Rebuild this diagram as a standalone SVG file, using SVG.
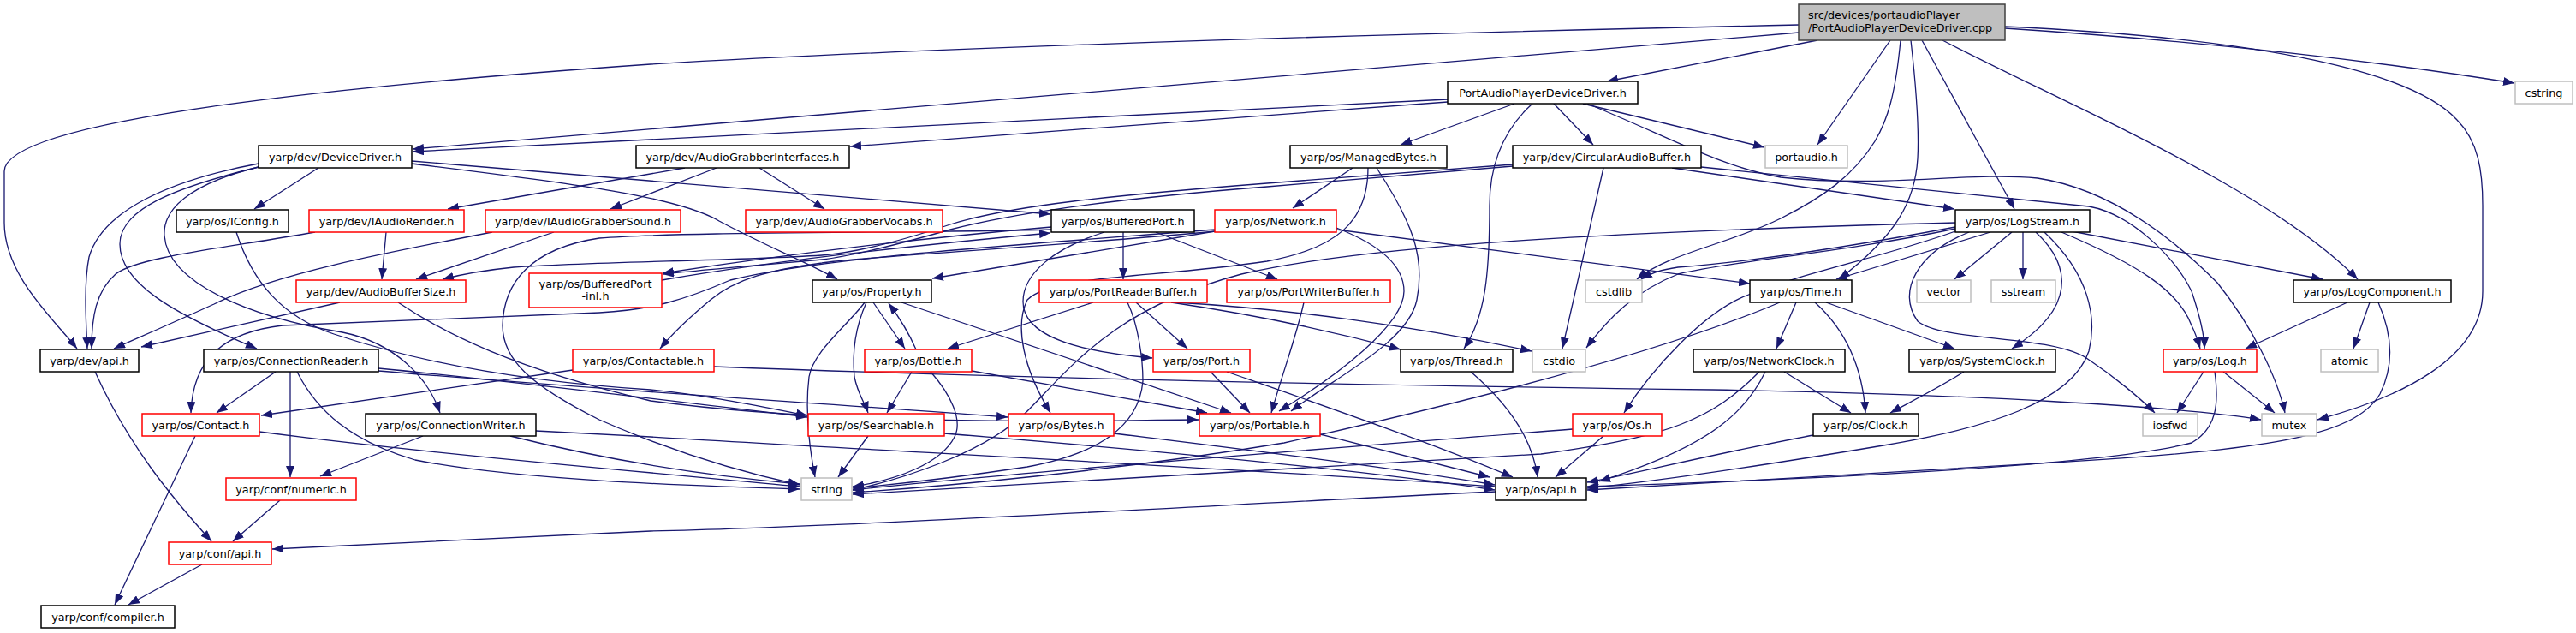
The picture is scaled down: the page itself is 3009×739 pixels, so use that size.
<svg xmlns="http://www.w3.org/2000/svg" width="3009" height="739" viewBox="0 0 3009 739">
<defs>
<marker id="a" markerWidth="13" markerHeight="10" refX="13" refY="5" orient="auto" markerUnits="userSpaceOnUse"><path d="M0,0 L13,5 L0,10 z" fill="#191970"/></marker>
<style>
rect{fill:#fff;stroke:#000;stroke-width:1.5}
rect.r{stroke:#ff0000}
rect.g{stroke:#bfbfbf}
rect.s{fill:#bfbfbf;stroke:#404040}
text{font-family:"DejaVu Sans","Liberation Sans",sans-serif;font-size:12.8px;text-anchor:middle;fill:#000}
text.l{text-anchor:start}
#edges path{fill:none;stroke:#191970;stroke-width:1.3;marker-end:url(#a)}
</style>
</defs>
<rect x="0" y="0" width="3009" height="739" style="fill:#fff;stroke:none"/>
<g id="edges">
<path d="M2101,29 C1600,40 1100,55 760,75 C400,100 5,140 5,200 L5,260 C5,320 60,370 90,407"/>
<path d="M2101,38 L482,174"/>
<path d="M2123,47 L1877,95"/>
<path d="M2208,47 L2123,169"/>
<path d="M2220,47 C2214,110 2205,140 2190,165 C2165,205 2130,230 2080,255 C2020,285 1950,295 1912,326"/>
<path d="M2232,47 C2238,100 2242,150 2240,185 C2237,235 2215,275 2148,326"/>
<path d="M2245,47 L2353,244"/>
<path d="M2269,47 C2420,125 2650,220 2754,326"/>
<path d="M2342,33 C2600,50 2800,75 2937,97"/>
<path d="M2342,31 C2650,45 2820,85 2870,140 C2895,165 2900,200 2900,240 L2900,340 C2900,420 2800,465 2707,490"/>
<path d="M1691,116 L482,177"/>
<path d="M1691,119 L993,171"/>
<path d="M1769,121 L1636,169"/>
<path d="M1790,121 C1758,150 1740,190 1740,240 C1740,320 1735,370 1710,407"/>
<path d="M1815,121 L1861,169"/>
<path d="M1849,121 L2061,172"/>
<path d="M1854,121 C1950,160 2010,195 2080,207 C2200,220 2300,200 2380,208 C2460,220 2530,270 2590,330 C2630,380 2660,440 2669,482"/>
<path d="M481,188 L1227,250"/>
<path d="M481,191 C650,212 790,228 840,258 C890,285 940,305 978,326"/>
<path d="M372,196 L297,244"/>
<path d="M302,191 C200,210 120,245 104,300 C98,330 100,370 102,407"/>
<path d="M302,195 C200,220 140,245 140,285 C140,330 200,365 300,407"/>
<path d="M302,195 C220,215 190,245 192,275 C196,330 290,370 400,388 C460,400 500,440 514,482"/>
<path d="M800,196 L523,244"/>
<path d="M837,196 L713,244"/>
<path d="M887,196 L963,244"/>
<path d="M451,271 L446,326"/>
<path d="M368,271 C260,290 160,300 135,320 C112,340 107,370 107,407"/>
<path d="M647,271 L486,326"/>
<path d="M575,271 C450,295 320,320 250,355 C195,380 160,395 133,407"/>
<path d="M397,353 L165,405"/>
<path d="M465,353 C520,390 600,430 760,468 C1000,500 1300,490 1400,490"/>
<path d="M1767,192 L1480,214 C1300,228 1180,240 1110,262 C1050,282 1000,295 960,298 C850,305 700,305 600,312 C560,316 540,320 517,326"/>
<path d="M1767,194 L1480,218 C1300,232 1180,250 1110,268 C1050,285 990,300 960,303 C880,310 820,315 774,320"/>
<path d="M1873,196 L1825,407"/>
<path d="M1953,196 L2283,244"/>
<path d="M1987,195 L2440,241 C2490,250 2540,300 2560,340 C2570,370 2575,390 2575,407"/>
<path d="M1580,196 L1510,243"/>
<path d="M1598,196 C1598,260 1560,290 1480,305 C1350,325 1230,320 1200,350 C1185,380 1195,430 1227,482"/>
<path d="M1608,196 C1650,260 1665,300 1655,350 C1645,400 1560,440 1508,480"/>
<path d="M1420,268 C1200,285 960,300 853,327 C800,350 760,362 700,365 L330,380 C260,388 225,420 223,482"/>
<path d="M1420,270 C1200,290 1000,300 960,307 C900,315 860,325 830,350 C800,375 785,390 771,407"/>
<path d="M1419,270 L1089,325"/>
<path d="M1561,268 L2044,331"/>
<path d="M1561,266 C1610,285 1640,310 1640,340 C1640,380 1560,440 1494,480"/>
<path d="M1312,271 L1312,326"/>
<path d="M1350,271 L1492,326"/>
<path d="M1290,271 C1230,290 1195,320 1195,352 C1195,390 1250,410 1346,418"/>
<path d="M1228,265 C1050,280 900,300 774,319"/>
<path d="M773,327 C900,305 1050,288 1227,272"/>
<path d="M1228,268 C1100,272 800,270 700,278 C620,290 588,330 587,380 C587,420 620,450 700,490 C780,525 860,550 934,566"/>
<path d="M1010,353 C990,380 950,410 945,440 C940,480 945,520 952,557"/>
<path d="M1012,353 C1000,380 995,410 998,440 C1002,460 1010,470 1014,482"/>
<path d="M1020,353 L1057,407"/>
<path d="M1070,408 C1060,385 1050,370 1038,354"/>
<path d="M1053,353 L1438,482"/>
<path d="M1065,434 L1036,482"/>
<path d="M1087,434 C1110,460 1125,490 1115,510 C1100,540 1050,560 996,568"/>
<path d="M1135,433 L1410,482"/>
<path d="M1277,353 L1107,407"/>
<path d="M1317,353 C1330,380 1335,420 1335,445 C1330,500 1280,530 1200,545 C1100,560 1050,565 996,570"/>
<path d="M1327,353 L1387,407"/>
<path d="M1368,353 C1450,365 1550,385 1636,408"/>
<path d="M1372,353 C1500,360 1650,380 1789,410"/>
<path d="M1523,353 C1515,390 1500,430 1485,482"/>
<path d="M1414,434 L1460,482"/>
<path d="M1433,434 C1550,475 1680,520 1767,557"/>
<path d="M669,432 L305,485"/>
<path d="M834,428 C1200,442 1600,450 2000,455 C2300,460 2550,475 2641,490"/>
<path d="M322,434 L253,482"/>
<path d="M339,434 L339,557"/>
<path d="M347,434 C370,480 410,515 485,537 C600,560 800,567 934,571"/>
<path d="M442,430 C600,445 800,470 943,487"/>
<path d="M442,433 C700,455 950,470 1177,487"/>
<path d="M228,509 L134,706"/>
<path d="M303,504 C500,530 800,555 934,568"/>
<path d="M494,509 L374,556"/>
<path d="M596,509 C700,535 820,555 934,565"/>
<path d="M626,503 L760,510 C1100,530 1500,550 1746,568"/>
<path d="M1014,509 L979,557"/>
<path d="M1103,506 C1400,530 1600,550 1746,572"/>
<path d="M1301,506 C1500,530 1650,550 1746,566"/>
<path d="M1542,507 L1740,557"/>
<path d="M1718,434 C1760,470 1790,510 1796,557"/>
<path d="M1873,509 L1817,557"/>
<path d="M1837,501 C1600,520 1200,550 996,572"/>
<path d="M2098,353 L2075,407"/>
<path d="M2120,353 C2150,380 2175,420 2179,482"/>
<path d="M2133,353 L2283,407"/>
<path d="M2079,353 C1980,395 1800,450 1500,517 C1300,550 1100,568 996,575"/>
<path d="M2084,434 L2162,482"/>
<path d="M2062,434 C2040,480 2000,520 1868,562"/>
<path d="M2055,434 C2000,490 1950,510 1800,530 C1500,550 1200,565 996,577"/>
<path d="M2294,434 C2270,450 2230,470 2208,482"/>
<path d="M2118,508 C2000,530 1900,555 1854,563"/>
<path d="M2574,434 L2543,482"/>
<path d="M2597,434 L2657,482"/>
<path d="M2587,434 C2592,470 2590,500 2560,517 C2450,545 2100,560 1854,568"/>
<path d="M2742,353 L2623,407"/>
<path d="M2768,353 L2749,407"/>
<path d="M2778,353 C2790,380 2800,420 2780,460 C2750,510 2650,525 2400,540 C2200,550 2000,565 1854,572"/>
<path d="M2350,271 L2283,326"/>
<path d="M2363,271 L2363,326"/>
<path d="M2325,271 L2145,326"/>
<path d="M2378,271 C2420,310 2425,360 2350,407"/>
<path d="M2388,271 C2440,320 2450,370 2440,410 C2420,470 2320,500 2200,520 C2050,545 1950,560 1854,570"/>
<path d="M2408,271 C2500,310 2545,340 2560,380 C2565,390 2568,400 2570,407"/>
<path d="M2420,270 L2713,326"/>
<path d="M2300,271 C2240,295 2215,340 2240,375 C2270,400 2400,390 2440,420 C2470,440 2500,465 2517,482"/>
<path d="M2284,265 C2150,290 2050,305 1960,312 C1940,315 1930,318 1917,326"/>
<path d="M2284,267 C2150,295 2020,305 1960,320 C1910,340 1880,370 1853,406"/>
<path d="M2284,270 C2200,300 2100,320 2040,345 C1990,365 1930,430 1897,482"/>
<path d="M2284,260 C1900,270 1600,285 1450,320 C1300,360 1250,430 1200,480 C1150,530 1050,560 996,572"/>
<path d="M1747,574 C1500,585 1000,615 760,620 L318,641"/>
<path d="M111,434 C150,520 200,580 247,632"/>
<path d="M327,584 L272,632"/>
<path d="M236,659 L150,706"/>
<path d="M276,271 C295,330 330,370 390,390 C480,420 600,445 760,455 C830,462 890,475 943,485"/>
</g>
<g id="n_src"><rect class="s" x="2101" y="5" width="241" height="42"/><text class="l" x="2112" y="22">src/devices/portaudioPlayer</text><text class="l" x="2112" y="37">/PortAudioPlayerDeviceDriver.cpp</text></g>
<g id="n_papdd"><rect x="1691" y="95" width="222" height="26"/><text x="1802" y="112.5">PortAudioPlayerDeviceDriver.h</text></g>
<g id="n_cstring"><rect class="g" x="2938" y="95" width="67" height="26"/><text x="2971.5" y="112.5">cstring</text></g>
<g id="n_devicedriver"><rect x="302" y="170" width="179" height="26"/><text x="391.5" y="187.5">yarp/dev/DeviceDriver.h</text></g>
<g id="n_agi"><rect x="743" y="170" width="249" height="26"/><text x="867.5" y="187.5">yarp/dev/AudioGrabberInterfaces.h</text></g>
<g id="n_managedbytes"><rect x="1507" y="170" width="183" height="26"/><text x="1598.5" y="187.5">yarp/os/ManagedBytes.h</text></g>
<g id="n_circular"><rect x="1767" y="170" width="220" height="26"/><text x="1877" y="187.5">yarp/dev/CircularAudioBuffer.h</text></g>
<g id="n_portaudio"><rect class="g" x="2062" y="170" width="96" height="26"/><text x="2110" y="187.5">portaudio.h</text></g>
<g id="n_iconfig"><rect x="206" y="245" width="131" height="26"/><text x="271.5" y="262.5">yarp/os/IConfig.h</text></g>
<g id="n_iaudiorender"><rect class="r" x="361" y="245" width="181" height="26"/><text x="451.5" y="262.5">yarp/dev/IAudioRender.h</text></g>
<g id="n_iaudiograbbersound"><rect class="r" x="567" y="245" width="228" height="26"/><text x="681" y="262.5">yarp/dev/IAudioGrabberSound.h</text></g>
<g id="n_vocabs"><rect class="r" x="871" y="245" width="230" height="26"/><text x="986" y="262.5">yarp/dev/AudioGrabberVocabs.h</text></g>
<g id="n_bufferedport"><rect x="1228" y="245" width="167" height="26"/><text x="1311.5" y="262.5">yarp/os/BufferedPort.h</text></g>
<g id="n_network"><rect class="r" x="1419" y="245" width="142" height="26"/><text x="1490" y="262.5">yarp/os/Network.h</text></g>
<g id="n_logstream"><rect x="2284" y="245" width="157" height="26"/><text x="2362.5" y="262.5">yarp/os/LogStream.h</text></g>
<g id="n_audiobuffersize"><rect class="r" x="346" y="327" width="198" height="26"/><text x="445" y="344.5">yarp/dev/AudioBufferSize.h</text></g>
<g id="n_bufferedportinl"><rect class="r" x="618" y="319" width="155" height="40"/><text x="695.5" y="335.5">yarp/os/BufferedPort</text><text x="695.5" y="350">-inl.h</text></g>
<g id="n_property"><rect x="949" y="327" width="139" height="26"/><text x="1018.5" y="344.5">yarp/os/Property.h</text></g>
<g id="n_portreaderbuffer"><rect class="r" x="1214" y="327" width="196" height="26"/><text x="1312" y="344.5">yarp/os/PortReaderBuffer.h</text></g>
<g id="n_portwriterbuffer"><rect class="r" x="1433" y="327" width="191" height="26"/><text x="1528.5" y="344.5">yarp/os/PortWriterBuffer.h</text></g>
<g id="n_cstdlib"><rect class="g" x="1852" y="327" width="66" height="26"/><text x="1885" y="344.5">cstdlib</text></g>
<g id="n_time"><rect x="2044" y="327" width="119" height="26"/><text x="2103.5" y="344.5">yarp/os/Time.h</text></g>
<g id="n_vector"><rect class="g" x="2239" y="327" width="63" height="26"/><text x="2270.5" y="344.5">vector</text></g>
<g id="n_sstream"><rect class="g" x="2326" y="327" width="75" height="26"/><text x="2363.5" y="344.5">sstream</text></g>
<g id="n_logcomponent"><rect x="2679" y="327" width="184" height="26"/><text x="2771" y="344.5">yarp/os/LogComponent.h</text></g>
<g id="n_devapi"><rect x="47" y="408" width="115" height="26"/><text x="104.5" y="425.5">yarp/dev/api.h</text></g>
<g id="n_connectionreader"><rect x="238" y="408" width="204" height="26"/><text x="340" y="425.5">yarp/os/ConnectionReader.h</text></g>
<g id="n_contactable"><rect class="r" x="669" y="408" width="165" height="26"/><text x="751.5" y="425.5">yarp/os/Contactable.h</text></g>
<g id="n_bottle"><rect class="r" x="1010" y="408" width="125" height="26"/><text x="1072.5" y="425.5">yarp/os/Bottle.h</text></g>
<g id="n_port"><rect class="r" x="1347" y="408" width="113" height="26"/><text x="1403.5" y="425.5">yarp/os/Port.h</text></g>
<g id="n_thread"><rect x="1636" y="408" width="131" height="26"/><text x="1701.5" y="425.5">yarp/os/Thread.h</text></g>
<g id="n_cstdio"><rect class="g" x="1790" y="408" width="62" height="26"/><text x="1821" y="425.5">cstdio</text></g>
<g id="n_networkclock"><rect x="1978" y="408" width="177" height="26"/><text x="2066.5" y="425.5">yarp/os/NetworkClock.h</text></g>
<g id="n_systemclock"><rect x="2230" y="408" width="171" height="26"/><text x="2315.5" y="425.5">yarp/os/SystemClock.h</text></g>
<g id="n_log"><rect class="r" x="2527" y="408" width="109" height="26"/><text x="2581.5" y="425.5">yarp/os/Log.h</text></g>
<g id="n_atomic"><rect class="g" x="2711" y="408" width="67" height="26"/><text x="2744.5" y="425.5">atomic</text></g>
<g id="n_contact"><rect class="r" x="166" y="483" width="137" height="26"/><text x="234.5" y="500.5">yarp/os/Contact.h</text></g>
<g id="n_connectionwriter"><rect x="427" y="483" width="199" height="26"/><text x="526.5" y="500.5">yarp/os/ConnectionWriter.h</text></g>
<g id="n_searchable"><rect class="r" x="944" y="483" width="159" height="26"/><text x="1023.5" y="500.5">yarp/os/Searchable.h</text></g>
<g id="n_bytes"><rect class="r" x="1178" y="483" width="123" height="26"/><text x="1239.5" y="500.5">yarp/os/Bytes.h</text></g>
<g id="n_portable"><rect class="r" x="1401" y="483" width="141" height="26"/><text x="1471.5" y="500.5">yarp/os/Portable.h</text></g>
<g id="n_os"><rect class="r" x="1837" y="483" width="104" height="26"/><text x="1889" y="500.5">yarp/os/Os.h</text></g>
<g id="n_clock"><rect x="2118" y="483" width="123" height="26"/><text x="2179.5" y="500.5">yarp/os/Clock.h</text></g>
<g id="n_iosfwd"><rect class="g" x="2503" y="483" width="64" height="26"/><text x="2535" y="500.5">iosfwd</text></g>
<g id="n_mutex"><rect class="g" x="2642" y="483" width="64" height="26"/><text x="2674" y="500.5">mutex</text></g>
<g id="n_numeric"><rect class="r" x="264" y="558" width="152" height="26"/><text x="340" y="575.5">yarp/conf/numeric.h</text></g>
<g id="n_string"><rect class="g" x="936" y="558" width="59" height="26"/><text x="965.5" y="575.5">string</text></g>
<g id="n_osapi"><rect x="1747" y="558" width="106" height="26"/><text x="1800" y="575.5">yarp/os/api.h</text></g>
<g id="n_confapi"><rect class="r" x="197" y="633" width="120" height="26"/><text x="257" y="650.5">yarp/conf/api.h</text></g>
<g id="n_compiler"><rect x="48" y="707" width="156" height="26"/><text x="126" y="724.5">yarp/conf/compiler.h</text></g>
</svg>
